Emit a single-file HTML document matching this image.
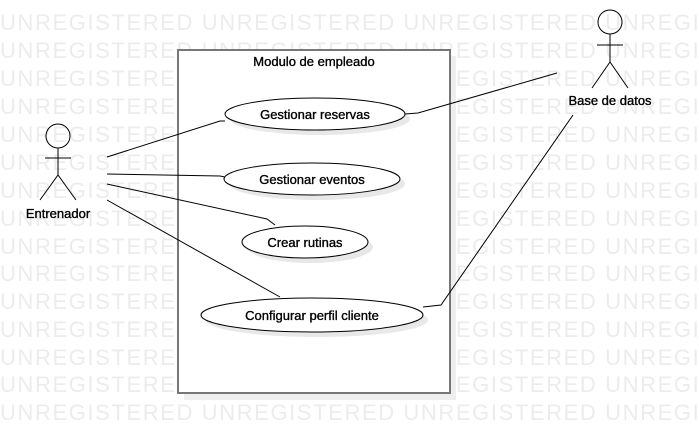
<!DOCTYPE html>
<html><head><meta charset="utf-8"><style>
html,body{margin:0;padding:0;background:#fff;width:699px;height:433px;overflow:hidden}
svg{display:block}
.wm{font-family:"Liberation Sans",sans-serif;font-size:22px;letter-spacing:1.6px;fill:#ececec}
.t{font-family:"Liberation Sans",sans-serif;font-size:13px;fill:#000;stroke:#000;stroke-width:0.35}
</style></head><body>
<svg width="699" height="433" viewBox="0 0 699 433" xmlns="http://www.w3.org/2000/svg">
<g class="wm">
<text x="0" y="30">UNREGISTERED UNREGISTERED UNREGISTERED UNREGISTERED</text>
<text x="0" y="58">UNREGISTERED UNREGISTERED UNREGISTERED UNREGISTERED</text>
<text x="0" y="86">UNREGISTERED UNREGISTERED UNREGISTERED UNREGISTERED</text>
<text x="0" y="114">UNREGISTERED UNREGISTERED UNREGISTERED UNREGISTERED</text>
<text x="0" y="142">UNREGISTERED UNREGISTERED UNREGISTERED UNREGISTERED</text>
<text x="0" y="170">UNREGISTERED UNREGISTERED UNREGISTERED UNREGISTERED</text>
<text x="0" y="198">UNREGISTERED UNREGISTERED UNREGISTERED UNREGISTERED</text>
<text x="0" y="226">UNREGISTERED UNREGISTERED UNREGISTERED UNREGISTERED</text>
<text x="0" y="254">UNREGISTERED UNREGISTERED UNREGISTERED UNREGISTERED</text>
<text x="0" y="281">UNREGISTERED UNREGISTERED UNREGISTERED UNREGISTERED</text>
<text x="0" y="309">UNREGISTERED UNREGISTERED UNREGISTERED UNREGISTERED</text>
<text x="0" y="337">UNREGISTERED UNREGISTERED UNREGISTERED UNREGISTERED</text>
<text x="0" y="365">UNREGISTERED UNREGISTERED UNREGISTERED UNREGISTERED</text>
<text x="0" y="392">UNREGISTERED UNREGISTERED UNREGISTERED UNREGISTERED</text>
<text x="0" y="420">UNREGISTERED UNREGISTERED UNREGISTERED UNREGISTERED</text>
</g>
<rect x="184" y="56" width="272" height="344" fill="#eeeeee"/>
<rect x="178" y="50" width="272" height="343" fill="#fff" stroke="#777" stroke-width="2"/>
<text class="t" x="314" y="66" text-anchor="middle">Modulo de empleado</text>
<g fill="#e8e8e8">
<ellipse cx="320" cy="119" rx="90" ry="16"/>
<ellipse cx="317" cy="184" rx="88" ry="16"/>
<ellipse cx="310" cy="247" rx="63" ry="16"/>
<ellipse cx="317" cy="320" rx="111" ry="17"/>
</g>
<g fill="#fff" stroke="#000" stroke-width="1">
<ellipse cx="315" cy="114" rx="90" ry="16"/>
<ellipse cx="312" cy="179" rx="88" ry="16"/>
<ellipse cx="305" cy="242" rx="63" ry="16"/>
<ellipse cx="312" cy="315" rx="111" ry="17"/>
</g>
<text class="t" x="315" y="119" text-anchor="middle">Gestionar reservas</text>
<text class="t" x="312" y="184" text-anchor="middle">Gestionar eventos</text>
<text class="t" x="305" y="247" text-anchor="middle">Crear rutinas</text>
<text class="t" x="312" y="320" text-anchor="middle">Configurar perfil cliente</text>
<g fill="none" stroke="#000" stroke-width="1">
<polyline points="107,157 220,121 225,121"/>
<polyline points="107,174 220,176 225,177"/>
<polyline points="107,184 267,219 275,225"/>
<polyline points="107,200 280,297"/>
<polyline points="405,114 418,113 557,73"/>
<polyline points="423,307 441,305 573,115"/>
</g>
<g fill="none" stroke="#000" stroke-width="1">
<circle cx="58" cy="136" r="12"/>
<line x1="58" y1="148" x2="58" y2="175"/>
<line x1="45" y1="158" x2="71" y2="158"/>
<polyline points="40,200 58,175 76,200"/>
<circle cx="610" cy="22" r="12"/>
<line x1="610" y1="34" x2="610" y2="62"/>
<line x1="597" y1="45" x2="623" y2="45"/>
<polyline points="592,88 610,62 628,88"/>
</g>
<text class="t" x="58" y="218" text-anchor="middle">Entrenador</text>
<text class="t" x="610" y="105" text-anchor="middle">Base de datos</text>
</svg>
</body></html>
